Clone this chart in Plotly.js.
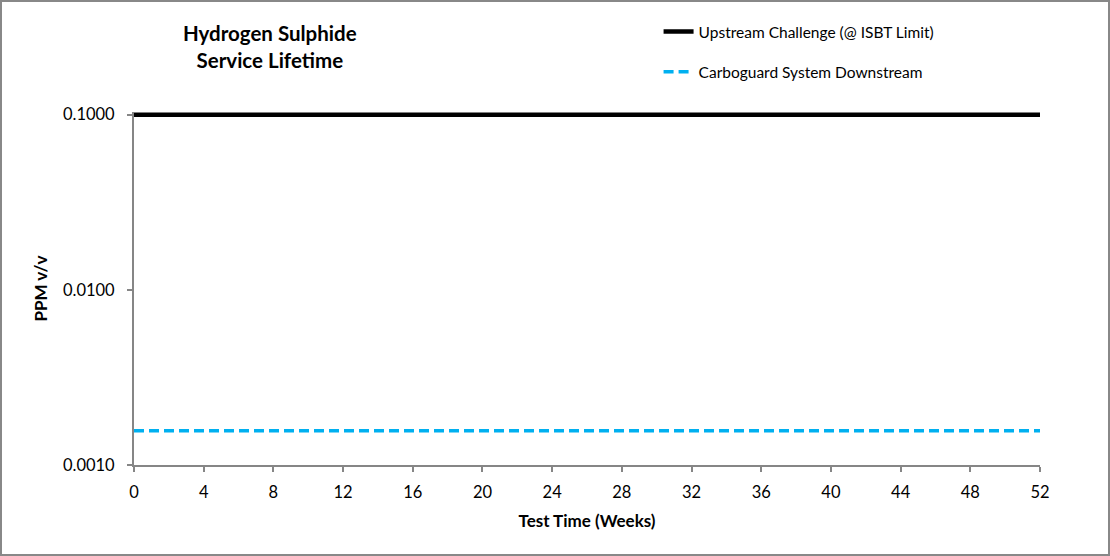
<!DOCTYPE html>
<html>
<head>
<meta charset="utf-8">
<script src="https://cdn.plot.ly/plotly-3.0.1.min.js"></script>
<style>
html,body{margin:0;padding:0;background:#fff;}
#frame{width:1106px;height:552px;border:2px solid #888;overflow:hidden;}
#chart{width:1106px;height:552px;}
</style>
</head>
<body>
<div id="frame"><div id="chart"></div></div>
<script>
const weeks = [];
for (let w = 0; w <= 52; w++) weeks.push(w);
const upstreamPPM = weeks.map(() => 0.1);
const downstreamPPM = weeks.map(() => 0.00157);
const seriesNames = ["Upstream Challenge (@ ISBT Limit)", "Carboguard System Downstream"];
const yTickVals = [0.001, 0.01, 0.1];
const yTickText = ["0.0010", "0.0100", "0.1000"];
const xTickVals = [0,4,8,12,16,20,24,28,32,36,40,44,48,52];

const font = "Lato, 'Open Sans', sans-serif";

const traces = [
  {x: weeks, y: upstreamPPM, name: seriesNames[0], mode: "lines", legendgroup: "a",
   line: {color: "#000000", width: 4.5}, hoverinfo: "skip"},
  {x: weeks, y: downstreamPPM, name: seriesNames[1], mode: "lines", legendgroup: "b",
   line: {color: "#00B0F0", width: 3.5, dash: "10px,5px"}, hoverinfo: "skip"}
];

const layout = {
  width: 1106, height: 552,
  margin: {l: 132, r: 68, t: 110, b: 89},
  paper_bgcolor: "#fff", plot_bgcolor: "#fff",
  font: {family: font, size: 16, color: "#000"},
  showlegend: true,
  legend: {x: 0.579, xanchor: "left", y: 1.275, yanchor: "top", traceorder: "grouped",
           tracegroupgap: 17, font: {size: 15.5, family: font}, bgcolor: "rgba(0,0,0,0)"},
  annotations: [{
    text: "<b>Hydrogen Sulphide<br>Service Lifetime</b>", xref: "paper", yref: "paper",
    x: 0.150, y: 1.264, xanchor: "center", yanchor: "top", showarrow: false,
    font: {size: 20.5, family: font}, align: "center"
  }],
  xaxis: {
    range: [0, 52], tickvals: xTickVals, showgrid: false, zeroline: false,
    showline: true, linecolor: "#868686", linewidth: 2,
    ticks: "outside", ticklen: 5, tickcolor: "#868686", tickwidth: 2,
    ticklabelstandoff: 6,
    tickfont: {size: 16.5}, title: {text: "<b>Test Time (Weeks)</b>", font: {size: 17}, standoff: 14}
  },
  yaxis: {
    type: "log", range: [-3, -0.985], tickvals: yTickVals, ticktext: yTickText,
    showgrid: false, zeroline: false,
    showline: true, linecolor: "#868686", linewidth: 2,
    ticks: "outside", ticklen: 5, tickcolor: "#868686", tickwidth: 2,
    ticklabelstandoff: 9,
    tickfont: {size: 16.5}, title: {text: "<b>PPM v/v</b>", font: {size: 17}, standoff: 11}
  }
};

Plotly.newPlot("chart", traces, layout, {displayModeBar: false, staticPlot: true});
</script>
</body>
</html>
